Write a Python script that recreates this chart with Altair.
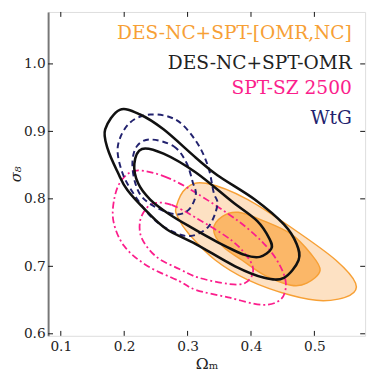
import altair as alt
import pandas as pd

# ---- data (Omega_m, sigma_8) ----
x_ticks = [0.1, 0.2, 0.3, 0.4, 0.5]
y_ticks = [0.6, 0.7, 0.8, 0.9, 1.0]

# DES-NC+SPT-[OMR,NC]  (orange, filled)
om_orange_95 = [0.282, 0.298, 0.329, 0.395, 0.472, 0.534, 0.565, 0.556, 0.514, 0.463, 0.395, 0.344, 0.302, 0.285]
s8_orange_95 = [0.788, 0.816, 0.823, 0.799, 0.752, 0.709, 0.675, 0.657, 0.649, 0.657, 0.680, 0.709, 0.748, 0.772]
om_orange_68 = [0.341, 0.355, 0.380, 0.421, 0.463, 0.494, 0.509, 0.488, 0.463, 0.421, 0.386, 0.355]
s8_orange_68 = [0.755, 0.774, 0.780, 0.767, 0.748, 0.719, 0.694, 0.675, 0.672, 0.687, 0.709, 0.730]

# DES-NC+SPT-OMR (black)
om_black_95 = [0.193, 0.225, 0.262, 0.313, 0.347, 0.406, 0.452, 0.472, 0.475, 0.452, 0.421, 0.375, 0.313, 0.267, 0.236, 0.205, 0.190, 0.174, 0.170]
s8_black_95 = [0.932, 0.925, 0.903, 0.861, 0.835, 0.799, 0.762, 0.733, 0.709, 0.683, 0.683, 0.700, 0.733, 0.755, 0.781, 0.813, 0.839, 0.874, 0.903]
om_black_68 = [0.228, 0.262, 0.313, 0.370, 0.410, 0.429, 0.432, 0.414, 0.390, 0.347, 0.305, 0.270, 0.241, 0.222, 0.216]
s8_black_68 = [0.874, 0.867, 0.839, 0.796, 0.767, 0.741, 0.726, 0.714, 0.717, 0.736, 0.758, 0.778, 0.799, 0.823, 0.852]

# SPT-SZ 2500 (pink, dash-dot)
om_pink_95 = [0.220, 0.264, 0.313, 0.380, 0.421, 0.444, 0.455, 0.447, 0.417, 0.364, 0.313, 0.287, 0.236, 0.200, 0.183, 0.185, 0.197]
s8_pink_95 = [0.842, 0.833, 0.809, 0.767, 0.733, 0.704, 0.675, 0.651, 0.643, 0.654, 0.665, 0.678, 0.701, 0.730, 0.767, 0.803, 0.829]
om_pink_68 = [0.251, 0.275, 0.313, 0.370, 0.398, 0.403, 0.390, 0.364, 0.318, 0.287, 0.251, 0.228, 0.225, 0.236]
s8_pink_68 = [0.794, 0.791, 0.772, 0.738, 0.709, 0.690, 0.675, 0.674, 0.683, 0.696, 0.714, 0.741, 0.767, 0.787]

# WtG (navy, dashed)
om_navy_95 = [0.241, 0.282, 0.313, 0.332, 0.341, 0.347, 0.333, 0.305, 0.275, 0.244, 0.216, 0.197, 0.190, 0.208]
s8_navy_95 = [0.925, 0.917, 0.886, 0.849, 0.810, 0.791, 0.759, 0.745, 0.752, 0.772, 0.806, 0.839, 0.878, 0.912]
om_navy_68 = [0.241, 0.278, 0.298, 0.308, 0.313, 0.302, 0.282, 0.251, 0.228, 0.217, 0.213, 0.220]
s8_navy_68 = [0.888, 0.878, 0.854, 0.825, 0.806, 0.784, 0.777, 0.787, 0.803, 0.825, 0.854, 0.878]

legend_labels = ["DES-NC+SPT-[OMR,NC]", "DES-NC+SPT-OMR", "SPT-SZ 2500", "WtG"]
legend_colors = ["#f7a035", "#222222", "#fb1e8c", "#22226e"]
legend_om = [0.559, 0.559, 0.559, 0.559]
legend_s8 = [1.046, 1.001, 0.964, 0.920]

W, H = 324, 331
FONT = "DejaVu Serif"

xscale = alt.Scale(domain=[0.08, 0.58], nice=False, zero=False)
yscale = alt.Scale(domain=[0.597, 1.077], nice=False, zero=False)

xax = alt.Axis(values=x_ticks, format=".1f", tickSize=0, domain=False, grid=False,
               labelFont=FONT, labelFontSize=14, labelColor="#222", labelPadding=4,
               title="Ωₘ", titleFont=FONT, titleFontSize=16, titleFontWeight="normal",
               titleColor="#222", titlePadding=2)
yax = alt.Axis(values=y_ticks, format=".1f", tickSize=0, domain=True, domainColor="#777",
               domainWidth=2, grid=False, labelFont=FONT, labelFontSize=14,
               labelColor="#222", labelPadding=3, title="σ₈", titleFont=FONT,
               titleFontSize=15, titleFontWeight="normal", titleFontStyle="italic",
               titleColor="#222", titlePadding=0)
X = lambda f: alt.X(f"{f}:Q", scale=xscale, axis=xax, title="Ωₘ")
Y = lambda f: alt.Y(f"{f}:Q", scale=yscale, axis=yax, title="σ₈")


def cdf(xs, ys):
    return pd.DataFrame({"om": xs, "s8": ys, "k": list(range(len(xs)))})


def contour(xs, ys, stroke, width, dash=None, fill=None):
    kw = dict(interpolate="cardinal-closed", stroke=stroke, strokeWidth=width)
    if dash is not None:
        kw["strokeDash"] = dash
    if fill is not None:
        kw["fill"] = fill
    return alt.Chart(cdf(xs, ys)).mark_line(**kw).encode(x=X("om"), y=Y("s8"), order="k:Q")


orange = "#f7a035"
layers = [
    contour(om_orange_95, s8_orange_95, orange, 1.5, fill="#fde1c3"),
    contour(om_orange_68, s8_orange_68, orange, 1.5, fill="#fbb768"),
    contour(om_pink_95, s8_pink_95, "#fb1e8c", 1.8, dash=[7, 3, 2, 3]),
    contour(om_pink_68, s8_pink_68, "#fb1e8c", 1.8, dash=[7, 3, 2, 3]),
    contour(om_navy_95, s8_navy_95, "#22226e", 2.0, dash=[6, 4]),
    contour(om_navy_68, s8_navy_68, "#22226e", 2.0, dash=[6, 4]),
    contour(om_black_95, s8_black_95, "#111111", 2.6),
    contour(om_black_68, s8_black_68, "#111111", 2.6),
]

# inward ticks on all four sides
xt = pd.DataFrame({"om": x_ticks})
yt = pd.DataFrame({"s8": y_ticks})
layers += [
    alt.Chart(xt).mark_rule(color="#111", strokeWidth=1).encode(x=X("om"), y=alt.value(0), y2=alt.value(5)),
    alt.Chart(xt).mark_rule(color="#111", strokeWidth=1).encode(x=X("om"), y=alt.value(H), y2=alt.value(H - 5)),
    alt.Chart(yt).mark_rule(color="#111", strokeWidth=1).encode(y=Y("s8"), x=alt.value(0), x2=alt.value(5)),
    alt.Chart(yt).mark_rule(color="#111", strokeWidth=1).encode(y=Y("s8"), x=alt.value(W), x2=alt.value(W - 5)),
]

leg = pd.DataFrame({"label": legend_labels, "col": legend_colors, "om": legend_om, "s8": legend_s8})
layers.append(
    alt.Chart(leg).mark_text(align="right", baseline="middle", font=FONT, fontSize=19).encode(
        x=X("om"), y=Y("s8"), text="label:N", color=alt.Color("col:N", scale=None)
    )
)

chart = alt.layer(*layers).properties(
    width=W, height=H,
    autosize=alt.AutoSizeParams(type="none"),
    padding={"left": 41, "top": 0, "right": 5, "bottom": 36},
).configure_view(stroke="#111", strokeWidth=1.2).configure(background="white")

chart.save("out.html", embed_options={"renderer": "svg", "actions": False})
